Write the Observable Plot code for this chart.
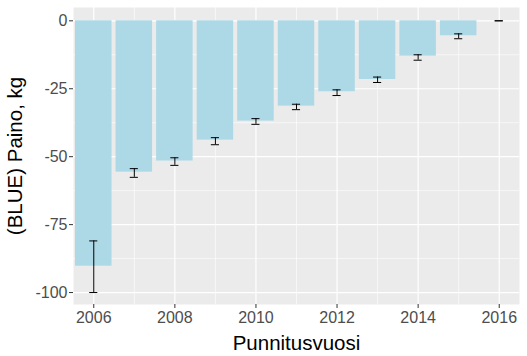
<!DOCTYPE html>
<html>
<head>
<meta charset="utf-8">
<script src="https://cdn.jsdelivr.net/npm/d3@7"></script>
<script src="https://cdn.jsdelivr.net/npm/@observablehq/plot@0.6"></script>
<style>
  html, body { margin: 0; padding: 0; background: #ffffff; }
  #chart svg { display: block; }
</style>
</head>
<body>
<div id="chart"></div>
<script>
const years = [2006, 2007, 2008, 2009, 2010, 2011, 2012, 2013, 2014, 2015, 2016];
const values = [-90.3, -55.7, -51.6, -43.9, -36.9, -31.4, -26.1, -21.6, -13.0, -5.5, 0];
const errLow = [-100.0, -57.6, -53.2, -45.6, -38.1, -32.7, -27.5, -22.7, -14.5, -6.6, 0];
const errHigh = [-81.0, -54.4, -50.4, -43.0, -36.0, -30.7, -25.4, -20.7, -12.5, -4.8, 0];
const xMajorTicks = [2006, 2008, 2010, 2012, 2014, 2016];
const xMinorTicks = [2007, 2009, 2011, 2013, 2015];
const yMajorTicks = [0, -25, -50, -75, -100];
const yMinorTicks = [-12.5, -37.5, -62.5, -87.5];
const xTitle = "Punnitusvuosi";
const yTitle = "(BLUE) Paino, kg";

const data = years.map((y, i) => ({year: y, value: values[i], lo: errLow[i], hi: errHigh[i]}));
const barHalf = 0.45;
const capHalf = 0.1;

const plot = Plot.plot({
  width: 527,
  height: 356,
  marginLeft: 73,
  marginRight: 8,
  marginTop: 7,
  marginBottom: 52,
  style: {fontFamily: "'Liberation Sans', Arial, sans-serif", background: "#ffffff"},
  x: {type: "linear", domain: [2005.5, 2016.5]},
  y: {domain: [-104.4, 4.9]},
  marks: [
    Plot.frame({fill: "#EBEBEB", stroke: null}),
    Plot.ruleX(xMinorTicks, {x: d => d, stroke: "#ffffff", strokeWidth: 0.6}),
    Plot.ruleY(yMinorTicks, {y: d => d, stroke: "#ffffff", strokeWidth: 0.6}),
    Plot.ruleX(xMajorTicks, {x: d => d, stroke: "#ffffff", strokeWidth: 1.2}),
    Plot.ruleY(yMajorTicks, {y: d => d, stroke: "#ffffff", strokeWidth: 1.2}),
    Plot.rectY(data, {x1: d => d.year - barHalf, x2: d => d.year + barHalf, y1: 0, y2: "value", fill: "#ADD8E6"}),
    Plot.ruleX(data, {x: "year", y1: "lo", y2: "hi", stroke: "#000000", strokeWidth: 1}),
    Plot.ruleY(data, {y: "lo", x1: d => d.year - capHalf, x2: d => d.year + capHalf, stroke: "#000000", strokeWidth: 1}),
    Plot.ruleY(data, {y: "hi", x1: d => d.year - capHalf, x2: d => d.year + capHalf, stroke: "#000000", strokeWidth: 1}),
    Plot.axisX({ticks: xMajorTicks, tickFormat: d => String(d), tickSize: 4, tickPadding: 3, fontSize: 16, color: "#4D4D4D", stroke: "#333333", label: null}),
    Plot.axisY({ticks: yMajorTicks, tickFormat: d => String(d), tickSize: 4, tickPadding: 2, fontSize: 16, color: "#4D4D4D", stroke: "#333333", label: null}),
    Plot.text([xTitle], {text: d => d, frameAnchor: "bottom", textAnchor: "middle", lineAnchor: "middle", dy: 39, fontSize: 20.5, fill: "#000000"}),
    Plot.text([yTitle], {text: d => d, frameAnchor: "left", textAnchor: "middle", lineAnchor: "middle", rotate: -90, dx: -58, fontSize: 20.5, fill: "#000000"})
  ]
});
document.getElementById("chart").appendChild(plot);
</script>
</body>
</html>
